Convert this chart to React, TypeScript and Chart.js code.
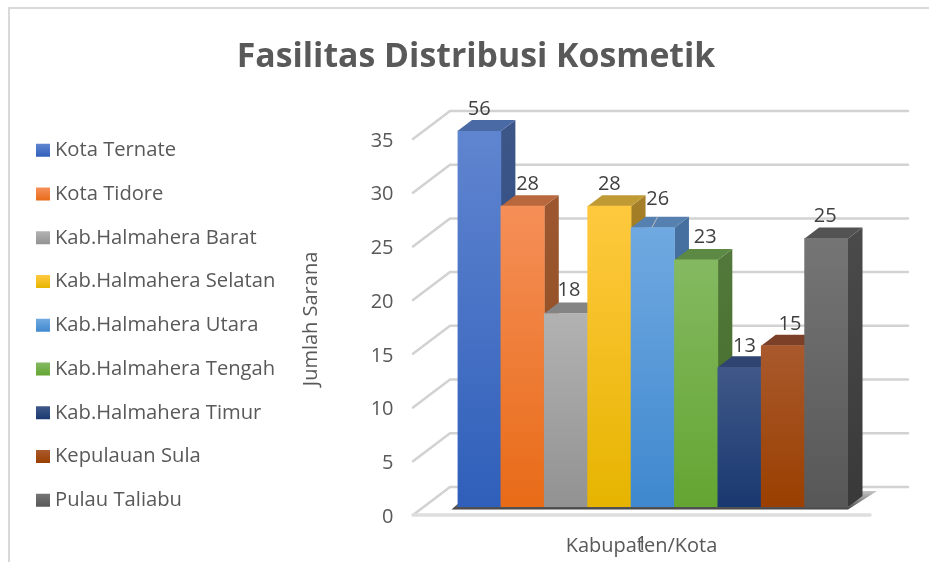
import React, { useEffect, useRef } from "react";
import { Chart, registerables } from "chart.js";

Chart.register(...registerables);

const FONT = '"Open Sans", sans-serif';
const chartTitle = "Fasilitas Distribusi Kosmetik";
const xTitle = "Kabupaten/Kota";
const yTitle = "Jumlah Sarana";
const categories = ["1"];
const seriesNames = [
  "Kota Ternate",
  "Kota Tidore",
  "Kab.Halmahera Barat",
  "Kab.Halmahera Selatan",
  "Kab.Halmahera Utara",
  "Kab.Halmahera Tengah",
  "Kab.Halmahera Timur",
  "Kepulauan Sula",
  "Pulau Taliabu",
];
const seriesValues = [56, 28, 18, 28, 26, 23, 13, 15, 25];
const yMax = 35;
const yStep = 5;

const frontTop = ["#6085D0", "#F58F58", "#B2B2B2", "#FFC93F", "#70A9E1", "#84B961", "#3F5888", "#A9592D", "#757575"];
const frontBottom = ["#2F5FBA", "#E86B17", "#929292", "#E6B400", "#3F88CE", "#64A532", "#1A3870", "#9A3F00", "#575757"];
const topFace = ["#4A6AA6", "#B9683E", "#848484", "#C09A35", "#5580B0", "#5C8A44", "#2F4470", "#7C4028", "#535353"];
const sideTop = ["#3C5688", "#9C5730", "#6E6E6E", "#A57F27", "#46709F", "#52783B", "#273A60", "#6A3518", "#4A4A4A"];
const sideBottom = ["#2A4680", "#8A4A1A", "#5E5E5E", "#8C6B10", "#386696", "#416A25", "#162D58", "#5E2800", "#393939"];
const labelNudgeX = [0, 5, 3, 0, 5, 9, 5, 7, -1];
const labelNudgeY = [-22, -22, -23, -22, -28, -23, -21, -22, -22];

const DEPTH_X = 14.5;
const DEPTH_Y = 11;
const WALL_X = 37;
const WALL_Y = 28;
const GRID = "#D2D2D2";
const PAD_LEFT = 17.55;

const scene3d = {
  id: "scene3d",
  afterLayout(chart: any) {
    const t = chart.titleBlock;
    t.left = 0;
    t.right = 952;
  },
  beforeDraw(chart: any) {
    const { ctx, width, height } = chart;
    const x = chart.scales.x;
    x.left = 413;
    x.right = 870;
    x.bottom = height;
    ctx.save();
    ctx.fillStyle = "#FFFFFF";
    ctx.fillRect(0, 0, width, height);
    ctx.strokeStyle = "#D9D9D9";
    ctx.lineWidth = 2;
    ctx.beginPath();
    ctx.moveTo(9, height);
    ctx.lineTo(9, 8);
    ctx.lineTo(width, 8);
    ctx.stroke();
    ctx.restore();
  },
  beforeDatasetsDraw(chart: any) {
    const { ctx } = chart;
    const y = chart.scales.y;
    const x0 = 413;
    const x1 = x0 + WALL_X;
    const xEnd = 908;
    ctx.save();
    ctx.strokeStyle = GRID;
    ctx.lineWidth = 2.5;
    ctx.lineCap = "round";
    y.ticks.forEach((tick: any) => {
      const p = y.getPixelForValue(tick.value);
      ctx.beginPath();
      ctx.moveTo(x0, p + 8);
      ctx.lineTo(x1, p + 8 - WALL_Y);
      ctx.lineTo(xEnd, p + 8 - WALL_Y);
      ctx.stroke();
    });
    const zero = y.getPixelForValue(0);
    ctx.strokeStyle = "#DEDEDE";
    ctx.lineWidth = 3.5;
    ctx.beginPath();
    ctx.moveTo(x0, zero + 8);
    ctx.lineTo(870, zero + 8);
    ctx.stroke();
    // floor shadow under the bars
    const area = chart.chartArea;
    const g = ctx.createLinearGradient(0, zero - 16, 0, zero + 2);
    g.addColorStop(0, "rgba(90,90,90,0.35)");
    g.addColorStop(1, "rgba(50,50,50,0.9)");
    ctx.fillStyle = g;
    ctx.beginPath();
    ctx.moveTo(area.left - 6, zero + 2.5);
    ctx.lineTo(area.right, zero + 2.5);
    ctx.lineTo(area.right + 29, zero - 16);
    ctx.lineTo(area.right + 14, zero - 16);
    ctx.lineTo(area.right, zero);
    ctx.lineTo(area.left, zero - 3);
    ctx.closePath();
    ctx.fill();
    ctx.restore();

    // painter's order: left bar first, each with its side and top behind its front
    seriesValues.forEach((v, i) => {
      const meta = chart.getDatasetMeta(i);
      const bar = meta.data[0];
      const half = bar.width / 2;
      const l = bar.x - half;
      const r = bar.x + half;
      const top = y.getPixelForValue(Math.min(v, yMax));
      ctx.save();
      const sg = ctx.createLinearGradient(0, top, 0, zero);
      sg.addColorStop(0, sideTop[i]);
      sg.addColorStop(1, sideBottom[i]);
      ctx.fillStyle = sg;
      ctx.beginPath();
      ctx.moveTo(r, top);
      ctx.lineTo(r + DEPTH_X, top - DEPTH_Y);
      ctx.lineTo(r + DEPTH_X, zero - DEPTH_Y);
      ctx.lineTo(r, zero);
      ctx.closePath();
      ctx.fill();
      ctx.fillStyle = topFace[i];
      ctx.beginPath();
      ctx.moveTo(l, top);
      ctx.lineTo(l + DEPTH_X, top - DEPTH_Y);
      ctx.lineTo(r + DEPTH_X, top - DEPTH_Y);
      ctx.lineTo(r, top);
      ctx.closePath();
      ctx.fill();
      ctx.beginPath();
      ctx.rect(area.left, area.top, area.right - area.left, area.bottom - area.top);
      ctx.clip();
      meta.controller.draw();
      ctx.restore();
    });
    return false;
  },
  afterDraw(chart: any) {
    const { ctx } = chart;
    const y = chart.scales.y;
    ctx.save();
    ctx.font = `20px ${FONT}`;
    ctx.fillStyle = "#404040";
    ctx.textAlign = "center";
    ctx.textBaseline = "middle";
    seriesValues.forEach((v, i) => {
      const bar = chart.getDatasetMeta(i).data[0];
      const top = y.getPixelForValue(Math.min(v, yMax));
      ctx.fillText(String(v), bar.x + labelNudgeX[i], top + labelNudgeY[i]);
    });
    // leader line of the label that was moved away from its bar
    const b = chart.getDatasetMeta(4).data[0];
    const t = y.getPixelForValue(seriesValues[4]);
    ctx.strokeStyle = "#BFBFBF";
    ctx.lineWidth = 1;
    ctx.beginPath();
    ctx.moveTo(b.x - 1, t);
    ctx.lineTo(b.x + 5, t - 11);
    ctx.stroke();
    ctx.restore();
  },
};

export default function App() {
  const ref = useRef<HTMLCanvasElement>(null);
  useEffect(() => {
    const canvas = ref.current!;
    const chart = new Chart(canvas, {
      type: "bar",
      plugins: [scene3d],
      data: {
        labels: categories,
        datasets: seriesNames.map((name, i) => ({
          label: name,
          data: [seriesValues[i]],
          backgroundColor: (c: any) => {
            const area = c.chart.chartArea;
            if (!area) return frontBottom[i];
            const y = c.chart.scales.y;
            const g = c.chart.ctx.createLinearGradient(0, y.getPixelForValue(Math.min(seriesValues[i], yMax)), 0, y.getPixelForValue(0));
            g.addColorStop(0, frontTop[i]);
            g.addColorStop(1, frontBottom[i]);
            return g;
          },
        })),
      },
      options: {
        responsive: false,
        animation: false,
        layout: { padding: { left: PAD_LEFT, right: 81, top: 0, bottom: 28 } },
        datasets: { bar: { categoryPercentage: 1, barPercentage: 1 } },
        scales: {
          x: {
            grid: { display: false, drawTicks: false },
            border: { display: false },
            afterFit: (s: any) => {
              s.height = 27;
            },
            ticks: { color: "#595959", font: { family: FONT, size: 20 }, padding: 25, labelOffset: -11, maxRotation: 0 },
            title: { display: true, text: xTitle, color: "#595959", font: { family: FONT, size: 20 }, padding: { top: 0, bottom: 4 } },
          },
          y: {
            min: 0,
            max: yMax,
            grid: { display: false, drawTicks: false },
            border: { display: false },
            afterFit: (s: any) => {
              s.width = 457.5 - PAD_LEFT - (s.chart.legend?.width ?? 270);
              s.paddingTop = 0;
              s.paddingBottom = 0;
            },
            ticks: { stepSize: yStep, color: "#595959", font: { family: FONT, size: 20 }, padding: 64, labelOffset: 10 },
            title: { display: true, text: yTitle, color: "#595959", font: { family: FONT, size: 20 }, padding: { top: 14, bottom: 0 } },
          },
        },
        plugins: {
          tooltip: { enabled: false },
          title: {
            display: true,
            text: chartTitle,
            color: "#595959",
            font: { family: FONT, size: 33.8, weight: "bold" },
            padding: { top: 36.7, bottom: 53.7 },
          },
          legend: {
            position: "left",
            align: "end",
            maxWidth: 290,
            labels: {
              boxWidth: 3.8,
              boxHeight: 2.8,
              padding: 23.55,
              color: "#595959",
              font: { family: FONT, size: 20.2 },
              generateLabels: (c: any) =>
                seriesNames.map((name, i) => {
                  const yc = 150.5 + i * 43.75;
                  const g = c.ctx.createLinearGradient(0, yc - 6.5, 0, yc + 6.5);
                  g.addColorStop(0, frontTop[i]);
                  g.addColorStop(1, frontBottom[i]);
                  return { text: name, fillStyle: g, strokeStyle: g, lineWidth: 10.2, datasetIndex: i, fontColor: "#595959" };
                }),
            },
          },
        },
      },
    } as any);
    return () => chart.destroy();
  }, []);
  return (
    <div style={{ position: "absolute", left: 0, top: 0, width: 929, height: 562 }}>
      <canvas ref={ref} width={929} height={562} style={{ display: "block" }} />
    </div>
  );
}
